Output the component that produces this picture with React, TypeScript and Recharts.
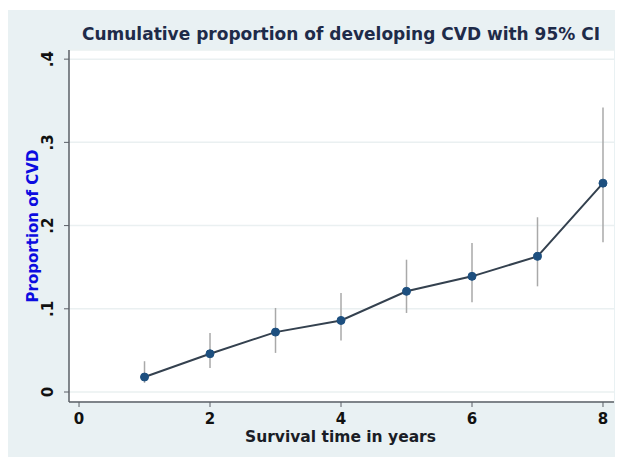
import React from "react";
import { LineChart, Line, XAxis, YAxis, CartesianGrid, ErrorBar } from "recharts";

const years = [1, 2, 3, 4, 5, 6, 7, 8];
const proportion = [0.018, 0.046, 0.072, 0.086, 0.121, 0.139, 0.163, 0.251];
const lowerCI = [0.011, 0.029, 0.047, 0.062, 0.095, 0.108, 0.127, 0.18];
const upperCI = [0.037, 0.071, 0.101, 0.119, 0.159, 0.179, 0.21, 0.342];
const xTicks = [0, 2, 4, 6, 8];
const yTicks = [0, 0.1, 0.2, 0.3, 0.4];

const title = "Cumulative proportion of developing CVD with 95% CI";
const xTitle = "Survival time in years";
const yTitle = "Proportion of CVD";

const data = years.map((y, i) => ({
  year: y,
  p: proportion[i],
  ci: [proportion[i] - lowerCI[i], upperCI[i] - proportion[i]],
}));

const FONT = "'DejaVu Sans', 'Liberation Sans', Arial, sans-serif";

const fmtY = (v: number) => (v === 0 ? "0" : String(v).replace(/^0\./, "."));

const YTick = (props: any) => {
  const { x, y, payload } = props;
  const tx = x - 11;
  return (
    <text
      x={tx}
      y={y}
      transform={`rotate(-90 ${tx} ${y})`}
      textAnchor="middle"
      fill="#111"
      fontSize={15}
      fontWeight={700}
      fontFamily={FONT}
    >
      {fmtY(payload.value)}
    </text>
  );
};

export default function App() {
  return (
    <div
      style={{
        position: "relative",
        width: 615,
        height: 447,
        marginTop: 2,
        background: "#e9f1f3",
        fontFamily: FONT,
      }}
    >
      <LineChart
        width={615}
        height={447}
        data={data}
        margin={{ top: 40, right: 9, left: 0, bottom: 0 }}
      >
        <CartesianGrid
          vertical={false}
          stroke="#eaf0f1"
          strokeWidth={1.5}
          fill="#ffffff"
        />
        <XAxis
          dataKey="year"
          type="number"
          domain={[-0.153, 8.168]}
          ticks={xTicks}
          allowDataOverflow
          height={55}
          axisLine={{ stroke: "#5a5f66", strokeWidth: 1.5 }}
          tickLine={{ stroke: "#5a5f66", strokeWidth: 1 }}
          tickSize={5}
          tickMargin={6}
          tick={{ fill: "#111", fontSize: 15, fontWeight: 700, fontFamily: FONT }}
        />
        <YAxis
          type="number"
          domain={[-0.012, 0.411]}
          ticks={yTicks}
          allowDataOverflow
          width={61}
          axisLine={{ stroke: "#5a5f66", strokeWidth: 1.5 }}
          tickLine={{ stroke: "#5a5f66", strokeWidth: 1 }}
          tickSize={5}
          tickMargin={0}
          tick={<YTick />}
        />
        <Line
          dataKey="p"
          stroke="#34414f"
          strokeWidth={2}
          dot={{ r: 4, fill: "#1d4f7f", stroke: "#1d4f7f", strokeWidth: 1 }}
          activeDot={false}
          isAnimationActive={false}
        >
          <ErrorBar
            dataKey="ci"
            direction="y"
            width={0}
            stroke="#a9a9a9"
            strokeWidth={1.5}
          />
        </Line>
      </LineChart>
      <div
        style={{
          position: "absolute",
          left: 0,
          width: 666,
          top: 14,
          textAlign: "center",
          fontSize: 17,
          fontWeight: 700,
          color: "#1e2b49",
          whiteSpace: "nowrap",
        }}
      >
        {title}
      </div>
      <div
        style={{
          position: "absolute",
          left: 0,
          width: 665,
          top: 418,
          textAlign: "center",
          fontSize: 15.5,
          fontWeight: 700,
          color: "#1a1d26",
          whiteSpace: "nowrap",
        }}
      >
        {xTitle}
      </div>
      <div
        style={{
          position: "absolute",
          left: 25,
          top: 216,
          width: 0,
          height: 0,
        }}
      >
        <div
          style={{
            position: "absolute",
            left: 0,
            top: 0,
            transform: "translate(-50%, -50%) rotate(-90deg)",
            fontSize: 15,
            fontWeight: 700,
            color: "#0c0ce0",
            whiteSpace: "nowrap",
          }}
        >
          {yTitle}
        </div>
      </div>
    </div>
  );
}
